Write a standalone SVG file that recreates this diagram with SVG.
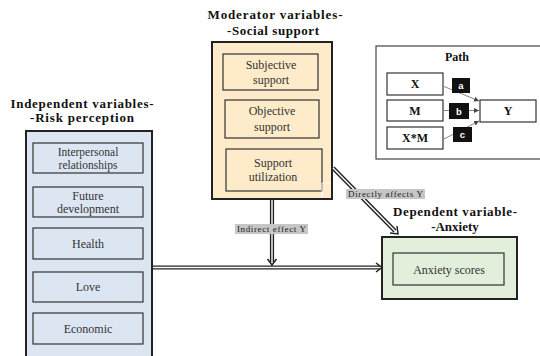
<svg xmlns="http://www.w3.org/2000/svg" width="540" height="356" viewBox="0 0 540 356">
<style>
text{font-family:'Liberation Serif','DejaVu Serif','Times New Roman',serif}
.title{font-weight:bold;font-size:13px;fill:#111;text-anchor:middle}
.lbl{font-size:12px;fill:#333;text-anchor:middle}
.lbls{font-size:11.5px;fill:#333;text-anchor:middle}
.pl{font-weight:bold;font-size:12px;fill:#111;text-anchor:middle}
.outer{stroke:#222;stroke-width:2}
.inner{stroke:#333;stroke-width:1.2}
.blue{fill:#dce6f2}
.tan{fill:#fdebc9}
.green{fill:#e2efda}
.wbox{fill:#fff;stroke:#333;stroke-width:1.2}
.tag{fill:#111}
.tagt{font-family:'Liberation Sans',sans-serif;font-weight:bold;font-size:9.5px;fill:#fff;text-anchor:middle}
.thin{stroke:#888;stroke-width:1;fill:none}
.dblo{stroke:#222;stroke-width:4.2;fill:none}
.dbli{stroke:#fff;stroke-width:1.4;fill:none}
.head{stroke:#222;stroke-width:1.5;fill:none}
.elbl{fill:#c6c6c6}
.elt{font-size:9px;fill:#222;text-anchor:middle}
</style>
<defs>
<marker id="sa" markerWidth="6" markerHeight="6" refX="5" refY="3" orient="auto" markerUnits="userSpaceOnUse">
<path d="M0,0.5 L5,3 L0,5.5 Z" fill="#444"/>
</marker>
</defs>
<rect width="540" height="356" fill="#fff"/>

<g id="independent">
<text class="title" x="82" y="108" textLength="143" lengthAdjust="spacing">Independent variables-</text>
<text class="title" x="82" y="122" textLength="104" lengthAdjust="spacing">-Risk perception</text>
<rect class="outer blue" x="26" y="131" width="126" height="232"/>
<rect class="inner blue" x="33" y="143" width="110" height="30"/>
<text class="lbls" x="88" y="155.5">Interpersonal</text>
<text class="lbls" x="88" y="168.5">relationships</text>
<rect class="inner blue" x="33" y="187" width="110" height="30"/>
<text class="lbl" x="88" y="200">Future</text>
<text class="lbl" x="88" y="213">development</text>
<rect class="inner blue" x="33" y="228" width="110" height="31"/>
<text class="lbl" x="88" y="248">Health</text>
<rect class="inner blue" x="33" y="272" width="110" height="30"/>
<text class="lbl" x="88" y="291">Love</text>
<rect class="inner blue" x="33" y="313" width="110" height="31"/>
<text class="lbl" x="88" y="333">Economic</text>
</g>

<g id="moderator">
<text class="title" x="275" y="19" textLength="135" lengthAdjust="spacing">Moderator variables-</text>
<text class="title" x="273" y="35" textLength="92" lengthAdjust="spacing">-Social support</text>
<rect class="outer tan" x="212" y="42" width="120" height="157"/>
<rect class="inner tan" x="223" y="54" width="95" height="36"/>
<text class="lbl" x="271" y="69">Subjective</text>
<text class="lbl" x="271" y="84">support</text>
<rect class="inner tan" x="225" y="100" width="94" height="38"/>
<text class="lbl" x="272" y="115">Objective</text>
<text class="lbl" x="272" y="131">support</text>
<rect class="inner tan" x="226" y="149" width="96" height="42"/>
<text class="lbl" x="273" y="167">Support</text>
<text class="lbl" x="273" y="181">utilization</text>
<path d="M322,183 H331 M322,183 V198" stroke="#fff" stroke-width="1" fill="none"/>
</g>

<g id="path-legend">
<rect x="376" y="46" width="170" height="113" fill="#fff" stroke="#444" stroke-width="1.2"/>
<text class="pl" x="457" y="61">Path</text>
<rect class="wbox" x="387" y="73" width="56" height="22"/>
<text class="pl" x="415" y="88">X</text>
<rect class="wbox" x="387" y="100" width="56" height="21"/>
<text class="pl" x="415" y="115">M</text>
<rect class="wbox" x="387" y="127" width="56" height="22"/>
<text class="pl" x="415" y="142">X*M</text>
<rect class="wbox" x="480" y="100" width="56" height="22"/>
<text class="pl" x="508" y="115">Y</text>
<path class="thin" d="M443,86 L479,101" marker-end="url(#sa)"/>
<path class="thin" d="M443,110.5 L479,110.5" marker-end="url(#sa)"/>
<path class="thin" d="M444,139 L479,121" marker-end="url(#sa)"/>
<rect class="tag" x="452" y="78" width="18" height="15"/>
<text class="tagt" x="461" y="89">a</text>
<rect class="tag" x="449" y="103" width="20" height="16"/>
<text class="tagt" x="459" y="114.5">b</text>
<rect class="tag" x="453" y="127" width="19" height="15"/>
<text class="tagt" x="462.5" y="138">c</text>
</g>

<g id="dependent">
<text class="title" x="455" y="216" textLength="124" lengthAdjust="spacing">Dependent variable-</text>
<text class="title" x="455" y="231">-Anxiety</text>
<rect class="outer green" x="382" y="237" width="135" height="62"/>
<rect class="inner green" x="393" y="253" width="111" height="32"/>
<text class="lbl" x="449" y="274">Anxiety scores</text>
</g>

<g id="connectors">
<path class="dblo" d="M153,267.5 H380"/>
<path class="dbli" d="M153,267.5 H380"/>
<path class="head" d="M376,263 L382,267.5 L376,272"/>
<path class="dblo" d="M272,200 V262"/>
<path class="dbli" d="M272,200 V262"/>
<path class="head" d="M267.5,259 L272,265 L276.5,259"/>
<path class="dblo" d="M333,168 L395,231"/>
<path class="dbli" d="M333,168 L395,231"/>
<path class="head" d="M390,233 L398,234 L397,226"/>
<rect class="elbl" x="235" y="224" width="73" height="10"/>
<text class="elt" x="271.5" y="232" textLength="69" lengthAdjust="spacing">Indirect effect Y</text>
<rect class="elbl" x="346" y="189" width="79" height="10"/>
<text class="elt" x="385.5" y="197" textLength="75" lengthAdjust="spacing">Directly affects Y</text>
</g>
</svg>
